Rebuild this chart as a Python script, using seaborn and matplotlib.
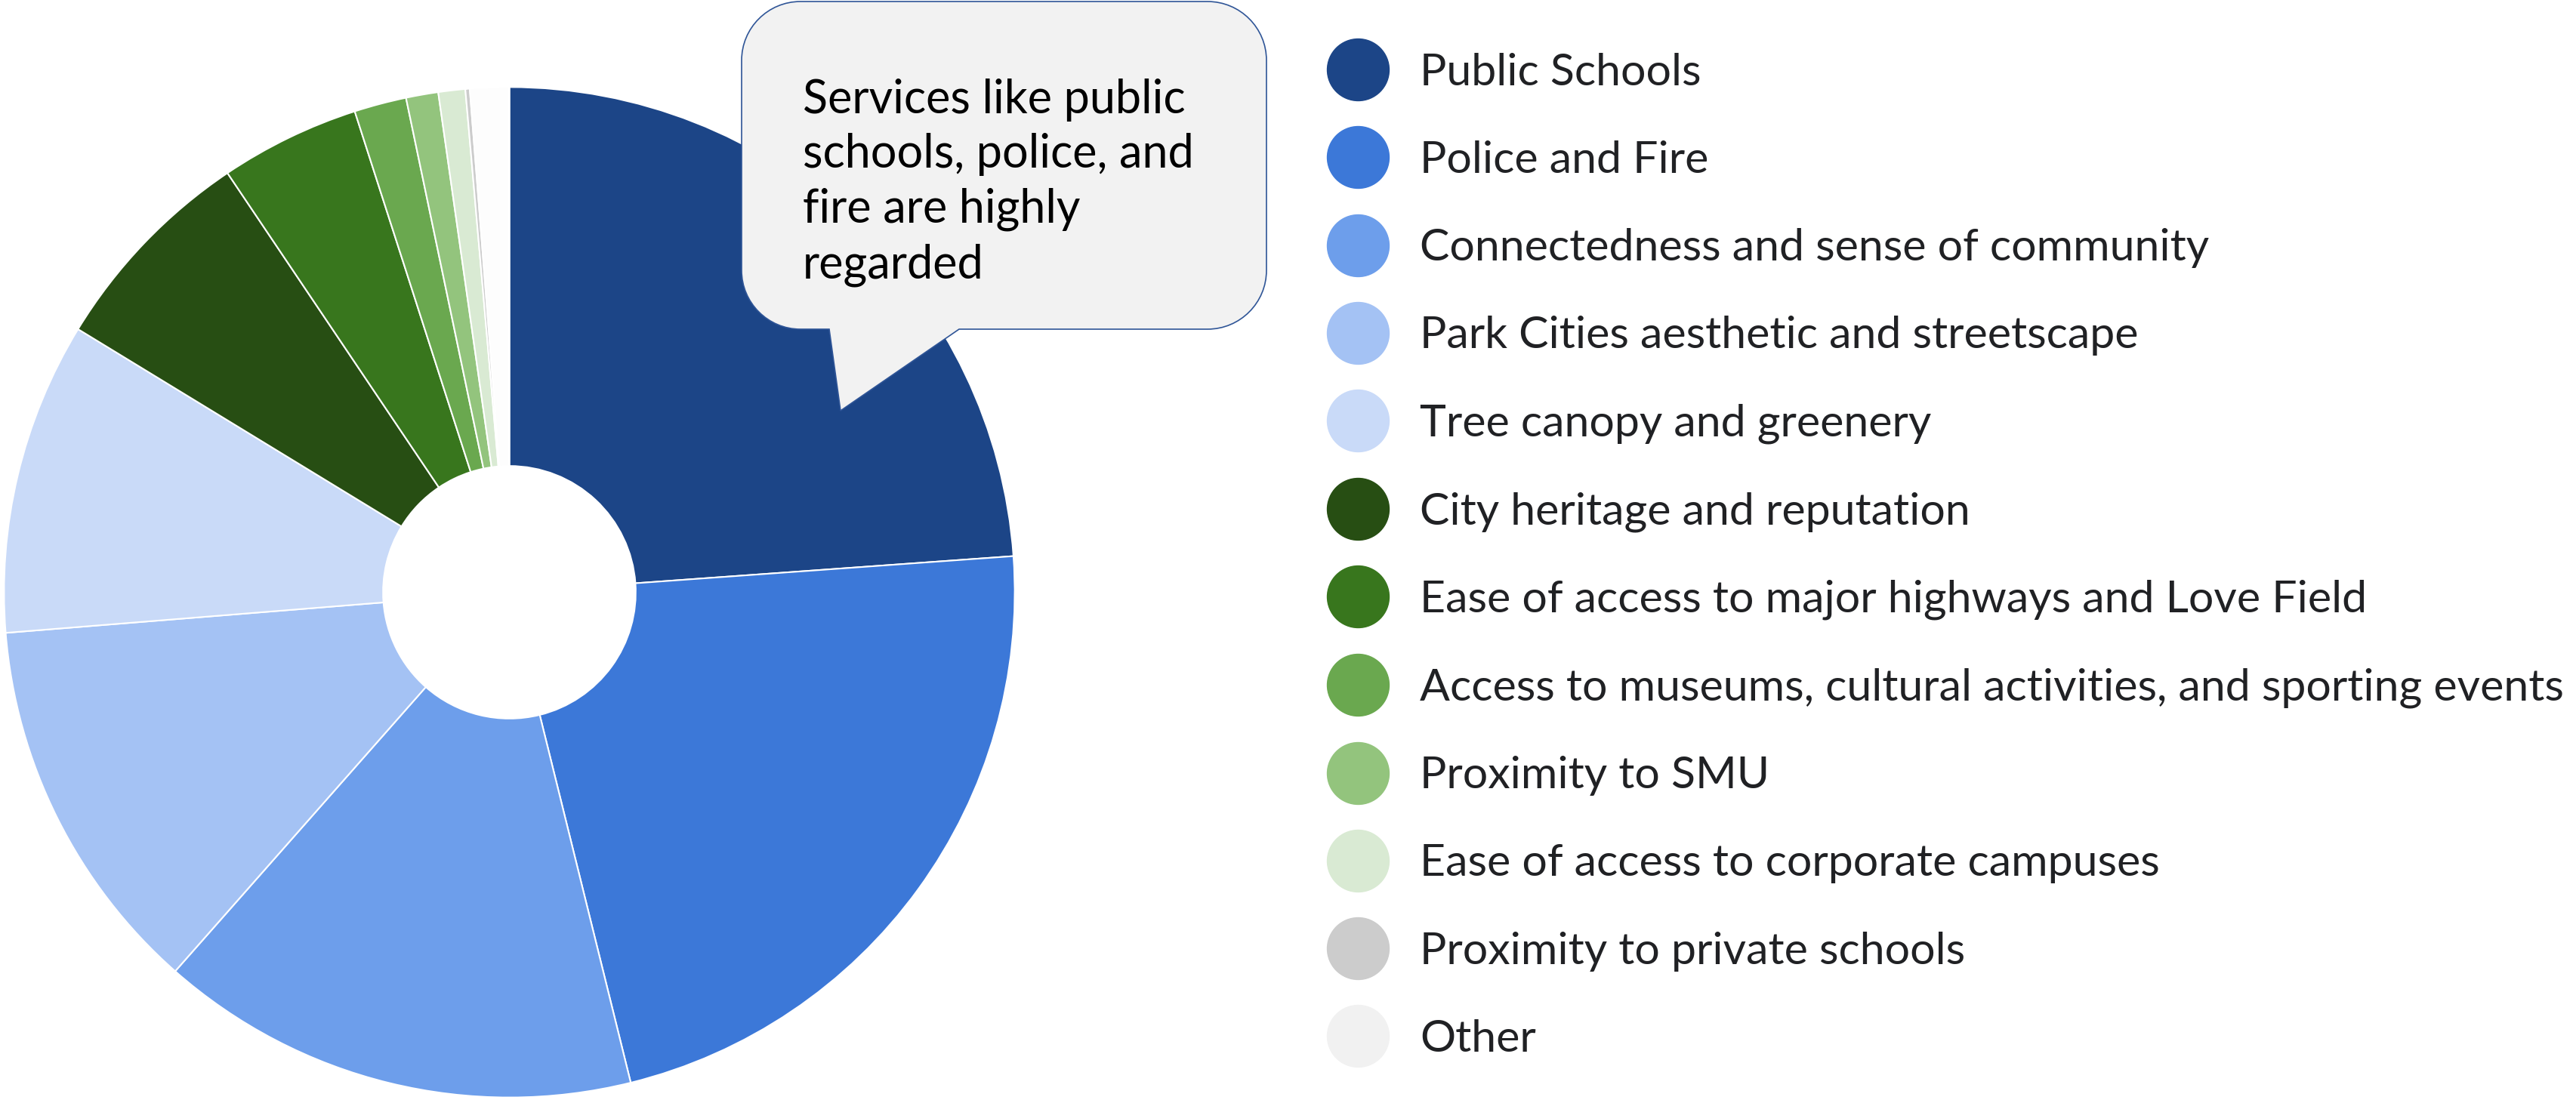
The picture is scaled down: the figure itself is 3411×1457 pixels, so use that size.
import numpy as np
import matplotlib
matplotlib.use('Agg')
import matplotlib.pyplot as plt
import seaborn as sns
from matplotlib.lines import Line2D
from matplotlib.path import Path
from matplotlib.patches import PathPatch

sns.set_style('white')
plt.rcParams['font.family'] = ['Lato', 'DejaVu Sans']

# what residents value most (share of responses, %)
categories = ['Public Schools', 'Police and Fire', 'Connectedness and sense of community',
              'Park Cities aesthetic and streetscape', 'Tree canopy and greenery',
              'City heritage and reputation', 'Ease of access to major highways and Love Field',
              'Access to museums, cultural activities, and sporting events', 'Proximity to SMU',
              'Ease of access to corporate campuses', 'Proximity to private schools', 'Other']
shares = [23.86, 22.28, 15.36, 12.22, 10.0, 6.86, 4.47, 1.67, 1.03, 0.86, 0.14, 1.25]
palette = sns.color_palette(['#1c4587', '#3c78d8', '#6d9eeb', '#a4c2f4', '#c9daf8', '#274e13',
                             '#38761d', '#6aa84f', '#93c47d', '#d9ead3', '#cccccc', '#f1f1f1'])
callout = 'Services like public\nschools, police, and\nfire are highly\nregarded'

W, H = 3411, 1457
fig = plt.figure(figsize=(W / 100, H / 100), dpi=100)

# donut
ax = fig.add_axes([2 / W, 0, 1345 / W, 1345 / H])
wedges, _ = ax.pie(shares, colors=palette, startangle=90, counterclock=False,
                   wedgeprops=dict(width=0.75, edgecolor='white', linewidth=1.5))
for w in wedges:
    w.set_clip_on(False)
# the "Other" slice is almost invisible in the original
wedges[-1].set_facecolor('#fdfdfd')
ax.set_xlim(-1.005, 1.005)
ax.set_ylim(-1.005, 1.005)
ax.set_aspect('equal')
ax.axis('off')

# legend with round swatches
handles = [Line2D([], [], marker='o', linestyle='', markersize=59, color=c) for c in palette]
fig.legend(handles, categories, loc='upper left', bbox_to_anchor=(1768 / W, 1 - 70 / H),
           frameon=False, fontsize=42.5, labelcolor='#202124', handlelength=1.0,
           handletextpad=0.9, labelspacing=1.07, borderpad=0, borderaxespad=0)

# speech bubble
ov = fig.add_axes([0, 0, 1, 1], zorder=5)
ov.set_xlim(0, W)
ov.set_ylim(H, 0)
ov.axis('off')
x0, x1, y0, y1, r = 982, 1677, 2, 436, 78
k = 0.5523 * r
verts = [(x0 + r, y0), (x1 - r, y0),
         (x1 - r + k, y0), (x1, y0 + r - k), (x1, y0 + r),
         (x1, y1 - r),
         (x1, y1 - r + k), (x1 - r + k, y1), (x1 - r, y1),
         (1270, y1), (1113, 544), (1098, y1),
         (x0 + r, y1),
         (x0 + r - k, y1), (x0, y1 - r + k), (x0, y1 - r),
         (x0, y0 + r),
         (x0, y0 + r - k), (x0 + r - k, y0), (x0 + r, y0),
         (x0 + r, y0)]
codes = [Path.MOVETO, Path.LINETO,
         Path.CURVE4, Path.CURVE4, Path.CURVE4,
         Path.LINETO,
         Path.CURVE4, Path.CURVE4, Path.CURVE4,
         Path.LINETO, Path.LINETO, Path.LINETO,
         Path.LINETO,
         Path.CURVE4, Path.CURVE4, Path.CURVE4,
         Path.LINETO,
         Path.CURVE4, Path.CURVE4, Path.CURVE4,
         Path.CLOSEPOLY]
ov.add_patch(PathPatch(Path(verts, codes), facecolor='#f2f2f2', edgecolor='#2f5597', linewidth=1.2))
ov.text(1063, 368, callout, fontsize=44, color='black', ha='left', va='baseline', linespacing=1.34)

fig.savefig('out.png', dpi=100, facecolor='white')
